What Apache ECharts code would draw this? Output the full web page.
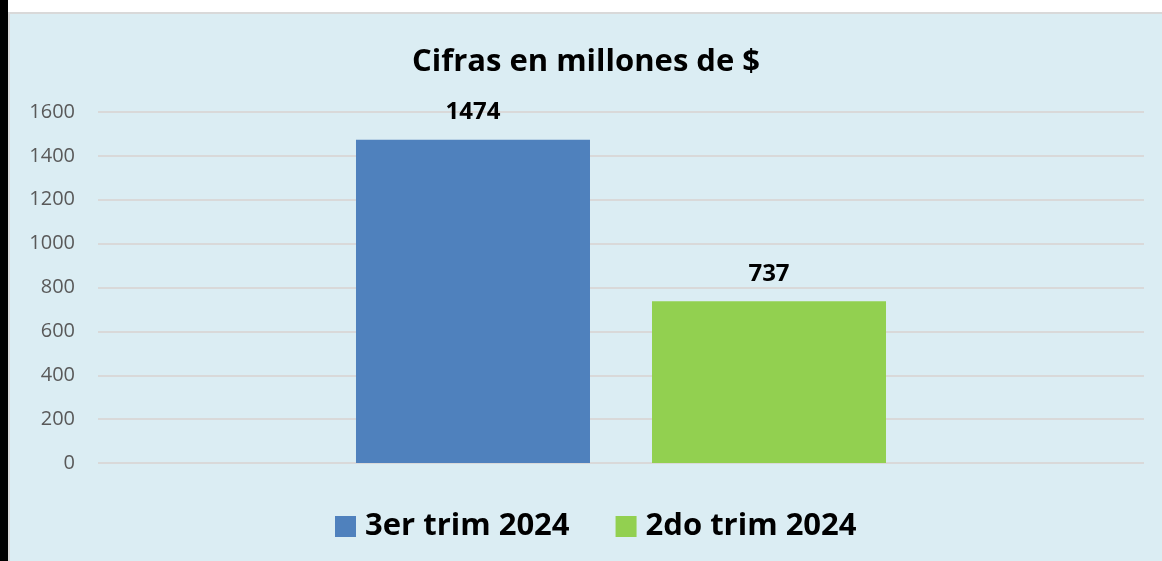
<!DOCTYPE html>
<html>
<head>
<meta charset="utf-8">
<script src="https://cdn.jsdelivr.net/npm/echarts@6/dist/echarts.min.js"></script>
<style>
    html, body { margin: 0; padding: 0; background: #ffffff; }
    #edge { position: absolute; left: 0; top: 0; width: 8px; height: 561px; background: #000; }
    #chart {
        position: absolute; left: 8px; top: 12px; width: 1152px; height: 547px;
        border-top: 2px solid #d9d9d9; border-left: 2px solid #d9d9d9;
        background: #dbedf3;
    }
</style>
</head>
<body>
<div id="edge"></div>
<div id="chart"></div>
<script>
var titleText = 'Cifras en millones de $';
var categories = [''];
var seriesNames = ['3er trim 2024', '2do trim 2024'];
var values3er = [1474];
var values2do = [737];
var yTicks = [0, 200, 400, 600, 800, 1000, 1200, 1400, 1600];

function draw() {
    var chart = echarts.init(document.getElementById('chart'));

    var labelStyle = {
        show: true,
        position: 'top',
        distance: 15,
        color: '#000',
        fontWeight: 'bold',
        fontSize: 24,
        fontFamily: 'Open Sans'
    };

    var option = {
        backgroundColor: '#dbedf3',
        title: {
            text: titleText,
            left: 'center',
            top: 28,
            textStyle: {
                color: '#000',
                fontSize: 31,
                fontWeight: 'bold',
                fontFamily: 'Open Sans'
            }
        },
        legend: {
            data: seriesNames,
            bottom: 14,
            left: 320,
            itemWidth: 21,
            itemHeight: 21,
            itemGap: 46,
            icon: 'rect',
            textStyle: {
                color: '#000',
                fontSize: 31,
                fontWeight: 'bold',
                fontFamily: 'Open Sans',
                padding: [0, 0, 0, 4]
            }
        },
        grid: {
            left: 88,
            right: 18,
            top: 98,
            bottom: 98
        },
        xAxis: {
            type: 'category',
            data: categories,
            axisLine: { show: false },
            axisTick: { show: false },
            axisLabel: { show: false }
        },
        yAxis: {
            type: 'value',
            min: yTicks[0],
            max: yTicks[yTicks.length - 1],
            interval: 200,
            axisLine: { show: false },
            axisTick: { show: false },
            axisLabel: {
                color: '#595959',
                fontSize: 20,
                margin: 23,
                fontFamily: 'Open Sans',
                formatter: function (v) { return String(v); }
            },
            splitLine: { lineStyle: { color: '#d9d9d9', width: 2 } }
        },
        series: [
            {
                name: seriesNames[0],
                type: 'bar',
                data: values3er,
                barWidth: 234,
                barGap: '26.5%',
                itemStyle: { color: '#4f81bd' },
                label: labelStyle
            },
            {
                name: seriesNames[1],
                type: 'bar',
                data: values2do,
                barWidth: 234,
                itemStyle: { color: '#92d050' },
                label: labelStyle
            }
        ]
    };

    chart.setOption(option);
    window.onresize = chart.resize;
}

draw();
</script>
</body>
</html>
